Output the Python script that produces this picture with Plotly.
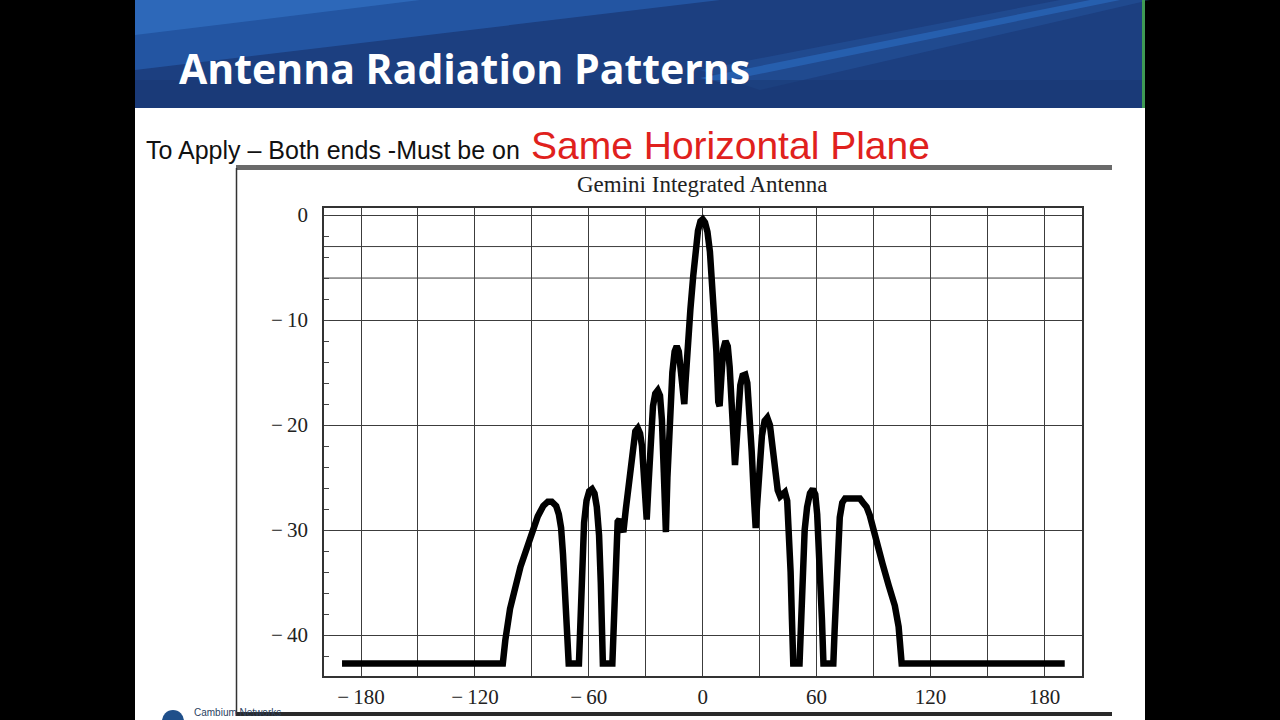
import plotly.graph_objects as go

# ---------------- data ----------------
ANGLE_DEG = [
    -190, -150, -105.3, -104.0, -102.6, -101.5, -96.0, -90.4, -86.9, -84.0, -81.6, -79.5, -77.2, -75.8,
    -74.6, -73.6, -72.6, -71.5, -70.6, -65.2,
    -64.3, -63.5, -62.5, -61.2, -59.8, -58.3, -57.0, -55.8, -54.6, -53.7, -53.0, -52.6, -47.6,
    -47.0, -46.3, -45.6, -44.8, -43.9, -43.0, -41.8,
    -40.5, -38.5, -36.8, -35.5, -34.2, -33.0, -32.0, -30.8, -29.5,
    -28.5, -27.3, -26.2, -25.0, -23.7, -22.5, -21.5, -20.5, -19.4,
    -18.6, -17.5, -16.0, -14.8, -13.7, -12.6, -11.7, -10.6, -9.7,
    -9.1, -8.0, -6.5, -5.0, -3.8, -2.5, -1.2, 0.0, 1.2, 2.5, 3.8, 5.0, 6.2, 7.2, 8.2,
    8.9, 9.8, 10.8, 12.0, 13.2, 14.2, 15.3, 16.4, 17.0,
    17.7, 18.7, 19.8, 21.0, 22.4, 23.5, 24.6, 25.8, 27.0, 27.9,
    28.7, 29.8, 31.2, 32.6, 34.0, 35.4, 36.6, 38.0, 39.5, 40.8, 42.0, 43.3, 44.5, 45.5, 46.3, 47.0, 47.7,
    51.0, 51.8, 52.6, 53.7, 55.0, 56.5, 58.0, 59.3, 60.3, 61.2, 62.0, 62.8, 63.6,
    68.8, 69.5, 70.3, 71.2, 72.2, 73.5, 75.0, 80.0, 82.8, 84.5, 86.3, 88.0, 89.8, 92.0, 94.7, 98.0,
    101.2, 103.2, 104.2, 104.8, 190.7,
]
GAIN_DB = [
    -42.7, -42.7, -42.7, -40.5, -38.6, -37.5, -33.5, -30.5, -28.7, -27.7, -27.3, -27.3, -27.7, -28.5,
    -29.8, -32.3, -35.5, -39.0, -42.7, -42.7,
    -38.0, -33.0, -29.3, -27.2, -26.3, -26.1, -26.5, -27.8, -30.5, -35.0, -39.5, -42.7, -42.7,
    -39.0, -33.5, -30.0, -29.2, -29.0, -29.5, -30.2,
    -28.0, -24.5, -21.6, -20.6, -20.3, -20.8, -22.0, -25.5, -29.0,
    -25.5, -21.0, -18.2, -17.0, -16.7, -17.2, -19.5, -24.5, -30.2,
    -25.0, -19.5, -15.0, -13.0, -12.5, -13.0, -14.5, -17.5, -18.0,
    -16.0, -12.5, -9.0, -5.8, -3.3, -1.5, -0.6, -0.4, -0.7, -1.6, -3.5, -6.2, -9.5, -13.0, -17.8,
    -18.2, -15.5, -12.8, -12.0, -12.5, -14.5, -18.0, -22.5, -23.8,
    -22.0, -18.5, -16.2, -15.3, -15.2, -16.0, -18.5, -22.5, -27.0, -29.8,
    -27.5, -24.0, -21.0, -19.6, -19.3, -20.0, -22.0, -24.5, -26.2, -26.8, -26.5, -26.4, -27.2, -30.0, -34.0, -38.5, -42.7,
    -42.7, -39.0, -34.0, -30.0, -27.8, -26.5, -26.1, -26.6, -28.5, -31.5, -35.0, -38.5, -42.7,
    -42.7, -39.5, -35.5, -31.5, -28.8, -27.4, -27.0, -27.0, -27.0, -27.4, -27.8, -28.6, -29.7, -31.3, -33.2, -35.3,
    -37.2, -39.2, -41.0, -42.7, -42.7,
]
X_LABEL_TICKS = [-180, -120, -60, 0, 60, 120, 180]
X_GRID_MINOR = [-150, -90, -30, 30, 90, 150]
Y_LABEL_TICKS = [0, -10, -20, -30, -40]
Y_EXTRA_GRID = [-3, -6]

TITLE = "Antenna Radiation Patterns"
SUB_BLACK = "To Apply – Both ends -Must be on"
SUB_RED = "Same Horizontal Plane"
CHART_TITLE = "Gemini Integrated Antenna"
LOGO_TEXT = "Cambium Networks"

W, H = 1280, 720


def px(x):
    return x / W


def py(y):
    return 1 - y / H


def fmt(v):
    return ("−\u2009" + str(abs(v))) if v < 0 else str(v)


fig = go.Figure()
fig.add_trace(go.Scatter(
    x=ANGLE_DEG, y=GAIN_DB, mode="lines",
    line=dict(color="black", width=6.5),
    hoverinfo="x+y", showlegend=False,
))

GRID = "#3c3c3c"
SERIF = "Liberation Serif"

shapes = []
shapes.append(dict(type="rect", xref="paper", yref="paper", x0=px(135), x1=px(1145), y0=0, y1=1,
                   fillcolor="white", line_width=0, layer="below"))
shapes.append(dict(type="rect", xref="paper", yref="paper", x0=px(135), x1=px(1145), y0=py(108), y1=1,
                   fillcolor="#1c3f80", line_width=0, layer="below"))


def path(pts):
    return "M " + " L ".join(f"{px(a):.5f},{py(b):.5f}" for a, b in pts) + " Z"


shapes.append(dict(type="path", xref="paper", yref="paper", path=path([(135, 0), (720, 0), (135, 70)]),
                   fillcolor="#2a68bd", opacity=0.55, line_width=0, layer="below"))
shapes.append(dict(type="path", xref="paper", yref="paper", path=path([(135, 0), (420, 0), (135, 35)]),
                   fillcolor="#3a80d4", opacity=0.45, line_width=0, layer="below"))
shapes.append(dict(type="path", xref="paper", yref="paper",
                   path=path([(700, 78), (1090, 0), (1120, 0), (720, 82)]),
                   fillcolor="#2d76d2", opacity=0.55, line_width=0, layer="below"))
shapes.append(dict(type="path", xref="paper", yref="paper",
                   path=path([(700, 70), (1060, 0), (1150, 0), (760, 90)]),
                   fillcolor="#2a62b4", opacity=0.3, line_width=0, layer="below"))
shapes.append(dict(type="rect", xref="paper", yref="paper", x0=px(135), x1=px(1145), y0=py(108), y1=py(80),
                   fillcolor="#173670", opacity=0.5, line_width=0, layer="below"))
shapes.append(dict(type="rect", xref="paper", yref="paper", x0=px(1142), x1=px(1145), y0=py(108), y1=1,
                   fillcolor="#3f9a55", line_width=0, layer="below"))
# chart picture frame
shapes.append(dict(type="rect", xref="paper", yref="paper", x0=px(236), x1=px(1112), y0=py(170), y1=py(165),
                   fillcolor="#6a6a6a", line_width=0, layer="below"))
shapes.append(dict(type="rect", xref="paper", yref="paper", x0=px(236), x1=px(1112), y0=py(716), y1=py(712),
                   fillcolor="#2a2a2a", line_width=0, layer="below"))
shapes.append(dict(type="line", xref="paper", yref="paper", x0=px(236.5), x1=px(236.5), y0=py(714), y1=py(168),
                   line=dict(color="#333", width=1.5), layer="below"))
for v in Y_EXTRA_GRID:
    shapes.append(dict(type="line", xref="x domain", yref="y", x0=0, x1=1, y0=v, y1=v,
                       line=dict(color=GRID, width=1), layer="below"))
shapes.append(dict(type="circle", xref="paper", yref="paper", x0=px(162), x1=px(184), y0=py(732), y1=py(710),
                   fillcolor="#1f4f8a", line_width=0, layer="below"))

annotations = [
    dict(text=f"<b>{TITLE}</b>", x=px(177), y=py(68), xref="paper", yref="paper", xanchor="left",
         yanchor="middle", showarrow=False, font=dict(family="Open Sans", size=41, color="white")),
    dict(text=SUB_BLACK, x=px(144), y=py(150), xref="paper", yref="paper", xanchor="left",
         yanchor="middle", showarrow=False, font=dict(family="Liberation Sans", size=25, color="#111")),
    dict(text=SUB_RED, x=px(529), y=py(146), xref="paper", yref="paper", xanchor="left",
         yanchor="middle", showarrow=False, font=dict(family="Liberation Sans", size=39, color="#e0211d")),
    dict(text=CHART_TITLE, x=px(702), y=py(184), xref="paper", yref="paper", xanchor="center",
         yanchor="middle", showarrow=False, font=dict(family=SERIF, size=23, color="#222")),
    dict(text=LOGO_TEXT, x=px(192), y=py(720), xref="paper", yref="paper", xanchor="left",
         yanchor="bottom", showarrow=False, font=dict(family="Liberation Sans", size=10, color="#2a3f5f")),
]

fig.update_layout(
    width=W, height=H,
    margin=dict(l=0, r=0, t=0, b=0, pad=0, autoexpand=False),
    paper_bgcolor="black",
    plot_bgcolor="white",
    shapes=shapes,
    annotations=annotations,
    showlegend=False,
    xaxis=dict(
        domain=[px(324), px(1082)], range=[-199.5, 199.8], automargin=False,
        tickmode="array", tickvals=X_LABEL_TICKS, ticktext=[fmt(v) for v in X_LABEL_TICKS],
        showgrid=True, gridcolor=GRID, gridwidth=1,
        minor=dict(tickmode="array", tickvals=X_GRID_MINOR, showgrid=True, gridcolor=GRID, gridwidth=1, ticks=""),
        zeroline=False, showline=True, linecolor="#333", linewidth=1.5, mirror=True,
        ticks="", ticklabelstandoff=1,
        tickfont=dict(family=SERIF, size=21, color="#222"),
        fixedrange=True,
    ),
    yaxis=dict(
        domain=[py(676), py(207.7)], range=[-43.9, 0.7], automargin=False,
        tickmode="array", tickvals=Y_LABEL_TICKS, ticktext=[fmt(v) for v in Y_LABEL_TICKS],
        showgrid=True, gridcolor=GRID, gridwidth=1,
        minor=dict(dtick=2, tick0=0, ticks="inside", ticklen=5, tickcolor="#444", showgrid=False),
        zeroline=False, showline=True, linecolor="#333", linewidth=1.5, mirror=True,
        ticks="", ticklabelstandoff=10,
        tickfont=dict(family=SERIF, size=21, color="#222"),
        fixedrange=True,
    ),
)

fig.write_html("out.html", config={"displayModeBar": False})
